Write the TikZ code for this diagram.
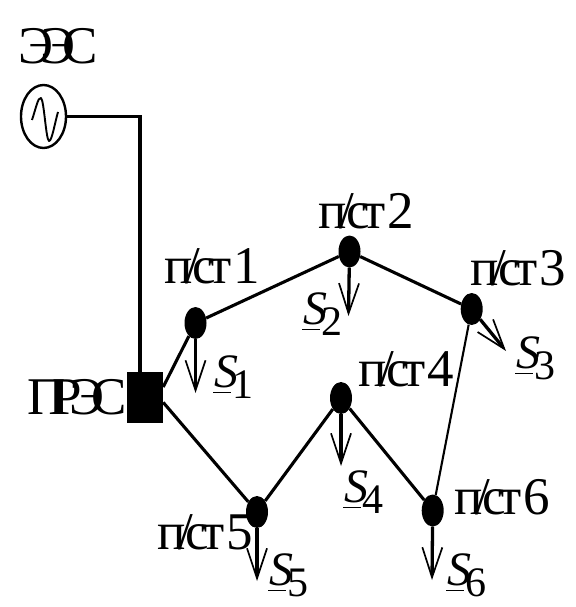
\documentclass[tikz,border=0pt]{standalone}
\usepackage{fontspec}
\setmainfont{Liberation Serif}
\newfontfamily\tightlbl[LetterSpace=-14]{Liberation Serif}
\newfontfamily\tightcap[LetterSpace=-24]{Liberation Serif}
\usetikzlibrary{shapes.geometric,arrows.meta}
\newcommand{\pst}[1]{{\tightlbl п/ст}\kern.03em #1}
\newcommand{\Sload}[1]{\rlap{\rule[-6pt]{18pt}{1pt}}\kern1pt{\fontsize{48}{48}\selectfont\itshape S}\kern-6pt\raisebox{-11pt}{\fontsize{42}{42}\selectfont #1}}
\tikzset{
  x=1pt,y=-1pt,
  lbl/.style={anchor=base west,inner sep=0pt,font=\fontsize{53}{53}\selectfont},
  capl/.style={anchor=base west,inner sep=0pt,font=\fontsize{53}{53}\selectfont\tightcap},
  dot/.style={ellipse,fill=black,draw=none,minimum width=22pt,minimum height=32pt,inner sep=0pt},
  wire/.style={line width=3.1pt,black},
  thinwire/.style={line width=2.1pt,black},
  loadshaft/.style={line width=3.3pt,shorten >=6pt},
  loadhead/.style={line width=1.7pt,-{Straight Barb[length=30pt,width=20pt,line width=1.7pt]}},
}
\begin{document}
\begin{tikzpicture}
\useasboundingbox (0,0) rectangle (575,607);
\node[ellipse,draw=black,line width=2.4pt,minimum width=45pt,minimum height=63pt,inner sep=0pt] (gen) at (43.5,116.5) {};
\draw[line width=1.9pt,line join=round] (32,120) .. controls (36,108) and (38,97) .. (41,98) .. controls (44,100) and (46,140) .. (49,141) .. controls (52,141) and (55,122) .. (58,112);
\node[rectangle,fill=black,minimum width=36pt,minimum height=51pt,inner sep=0pt] (pres) at (145,397.5) {};
\node[dot] (p1) at (195.5,323) {};
\node[dot] (p2) at (349.5,251.5) {};
\node[dot] (p3) at (471.7,309) {};
\node[dot] (p4) at (341,398) {};
\node[dot] (p5) at (257,512) {};
\node[dot] (p6) at (432.7,510.5) {};
\coordinate (t1) at (195.5,393);
\coordinate (t2) at (348.5,316);
\coordinate (t3) at (506,351);
\coordinate (t4) at (341,466);
\coordinate (t5) at (257,581);
\coordinate (t6) at (432,580);
\draw[wire] (gen.east) -| ([xshift=-5pt]pres.north);
\draw[wire] (pres.30) -- (p1);
\draw[wire] (pres.-15) -- (p5);
\draw[wire] (p1) -- (p2);
\draw[wire] (p2) -- (p3);
\draw[wire] (p5) -- (p4);
\draw[wire] (p4) -- (p6);
\draw[thinwire] (p3) -- (p6);
\foreach \i in {1,...,6} {\draw[loadshaft] (p\i) -- (t\i); \draw[loadhead] (p\i) -- (t\i);}
\node[capl] (eesl) at (18,64) {ЭЭС};
\node[capl] (presl) at (27,414) {ПРЭС};
\node[lbl] (l1) at (164,283) {\pst{1}};
\node[lbl] (l2) at (318,228) {\pst{2}};
\node[lbl] (l3) at (470,285) {\pst{3}};
\node[lbl] (l4) at (358,386) {\pst{4}};
\node[lbl] (l5) at (157,549) {\pst{5}};
\node[lbl] (l6) at (454,514) {\pst{6}};
\node[lbl] (s1) at (213,387) {\Sload{1}};
\node[lbl] (s2) at (302,324) {\Sload{2}};
\node[lbl] (s3) at (515,368) {\Sload{3}};
\node[lbl] (s4) at (343,502) {\Sload{4}};
\node[lbl] (s5) at (268,585) {\Sload{5}};
\node[lbl] (s6) at (446,585) {\Sload{6}};
\end{tikzpicture}
\end{document}
